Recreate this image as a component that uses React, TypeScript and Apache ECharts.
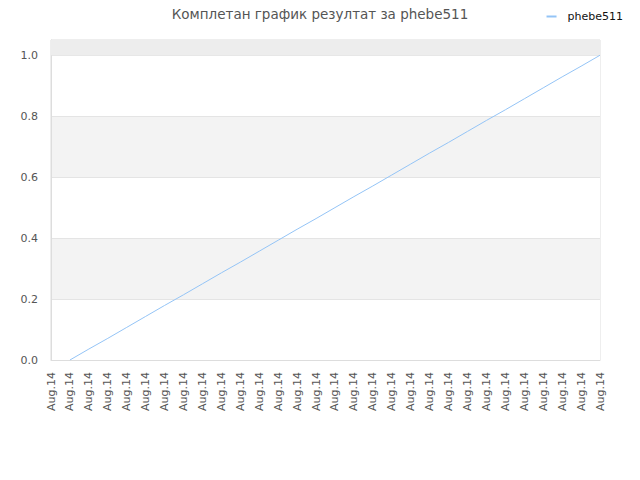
import React, { useEffect, useRef } from 'react';
import * as echarts from 'echarts';

const title = 'Комплетан график резултат за phebe511';
const seriesName = 'phebe511';
const categories: string[] = [
  'Aug.14', 'Aug.14', 'Aug.14', 'Aug.14', 'Aug.14', 'Aug.14', 'Aug.14', 'Aug.14', 'Aug.14', 'Aug.14',
  'Aug.14', 'Aug.14', 'Aug.14', 'Aug.14', 'Aug.14', 'Aug.14', 'Aug.14', 'Aug.14', 'Aug.14', 'Aug.14',
  'Aug.14', 'Aug.14', 'Aug.14', 'Aug.14', 'Aug.14', 'Aug.14', 'Aug.14', 'Aug.14', 'Aug.14', 'Aug.14',
];
const values: (number | null)[] = [
  null, 0, 0.036, 0.071, 0.107, 0.143, 0.179, 0.214, 0.25, 0.286,
  0.321, 0.357, 0.393, 0.429, 0.464, 0.5, 0.536, 0.571, 0.607, 0.643,
  0.679, 0.714, 0.75, 0.786, 0.821, 0.857, 0.893, 0.929, 0.964, 1.0,
];

const App: React.FC = () => {
  const chartRef = useRef<HTMLDivElement>(null);

  useEffect(() => {
    document.body.style.margin = '0';
    if (!chartRef.current) return;
    const chart = echarts.init(chartRef.current, null, { renderer: 'svg' });
    chart.setOption({
      animation: false,
      textStyle: { fontFamily: 'DejaVu Sans' },
      title: {
        text: title,
        left: 'center',
        top: 2,
        textStyle: { fontSize: 13.5, fontWeight: 'normal', color: '#555' },
      },
      legend: {
        right: 12,
        top: 6,
        itemWidth: 10,
        itemHeight: 2,
        itemGap: 5,
        icon: 'rect',
        textStyle: { fontSize: 11, color: '#111', padding: [0, 0, 0, 6] },
        data: [seriesName],
      },
      grid: {
        left: 51,
        right: 40,
        top: 40,
        bottom: 120,
        show: true,
        borderColor: '#dddddd',
        borderWidth: 1,
      },
      xAxis: {
        type: 'category',
        boundaryGap: false,
        data: categories,
        axisLine: { lineStyle: { color: '#dddddd' } },
        axisTick: { show: false },
        axisLabel: { rotate: 90, interval: 0, fontSize: 11, color: '#555', margin: 12 },
        splitLine: { show: false },
      },
      yAxis: {
        type: 'value',
        min: 0,
        max: 1.05,
        interval: 0.2,
        axisLine: { show: true, lineStyle: { color: '#dddddd' } },
        axisTick: { show: false },
        axisLabel: {
          fontSize: 11,
          color: '#555',
          margin: 13,
          formatter: (v: number) => (v > 1.01 ? '' : v.toFixed(1)),
        },
        splitLine: { show: true, lineStyle: { color: '#e4e4e4' } },
        splitArea: { show: true, areaStyle: { color: ['#ffffff', '#f3f3f3'] } },
      },
      series: [
        {
          name: seriesName,
          type: 'line',
          data: values,
          showSymbol: false,
          symbol: 'none',
          lineStyle: { color: '#94c4f6', width: 1 },
          itemStyle: { color: '#94c4f6' },
          markArea: {
            silent: true,
            itemStyle: { color: '#ededed' },
            data: [[{ yAxis: 1.0 }, { yAxis: 1.05 }]],
          },
        },
      ],
    });
    return () => {
      chart.dispose();
    };
  }, []);

  return <div ref={chartRef} style={{ width: '640px', height: '480px' }} />;
};

export default App;
